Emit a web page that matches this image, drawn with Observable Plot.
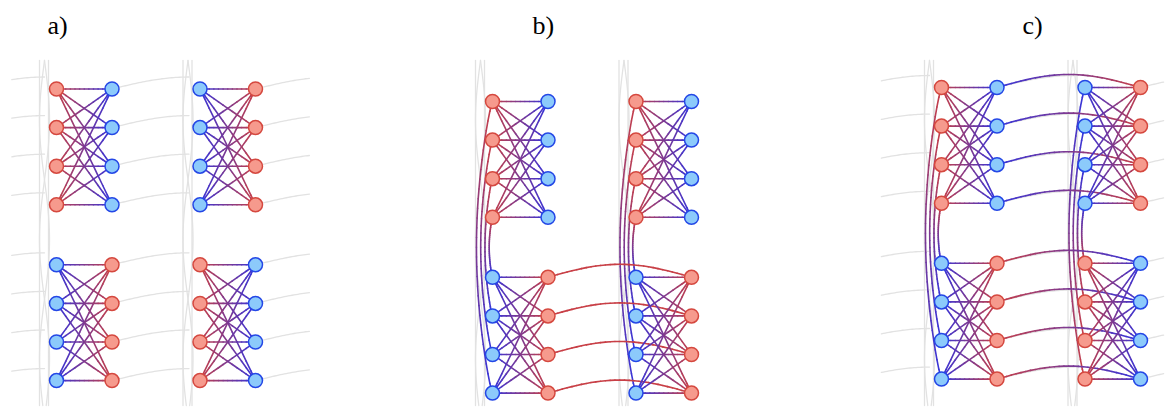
<!DOCTYPE html>
<html>
<head>
<meta charset="utf-8">
<script src="https://cdn.jsdelivr.net/npm/d3@7"></script>
<script src="https://cdn.jsdelivr.net/npm/@observablehq/plot@0.6"></script>
<style>
  html, body { margin: 0; padding: 0; background: #ffffff; }
  #chart svg { display: block; }
</style>
</head>
<body>
<div id="chart"></div>
<script>
// ---------------- DATA (graph topology) ----------------
const panelLabels = ["a)", "b)", "c)"];
// node kind of each column: panel -> pair -> group (top, bottom) -> [left column, right column]
const columnKinds = [
  [[["R", "B"], ["B", "R"]], [["B", "R"], ["R", "B"]]],
  [[["R", "B"], ["B", "R"]], [["R", "B"], ["B", "R"]]],
  [[["R", "B"], ["B", "R"]], [["B", "R"], ["R", "B"]]]
];
const rowIndex = [0, 1, 2, 3];
const pairIndex = [0, 1];
const groupIndex = [0, 1];
// panels whose left columns are linked top -> bottom by nested arcs
const hasVerticalArcs = [false, true, true];
// groups whose right columns are linked pair 0 -> pair 1 by arcs
const bridgeGroups = [[], [1], [0, 1]];
// panels that show the faint grey lattice rows
const hasGreyRows = [true, false, true];

// ---------------- LAYOUT & STYLE ----------------
const layout = {
  x0: [56, 492, 941], y0: [88.5, 101, 87],
  colGap: 55.5, pairGap: 143.5, rowGap: 38.6, groupGap: 60,
  labelX: [47, 532, 1022], labelY: 25,
  greyMin: [10, 0, 880], greyMax: [310, 0, 1165],
  bandOffset: -12, bandTop: 60, bandBottom: 406,
  greyRise: 12, greyLen: 77, bridgeBulge: 13, vBulge: 0.055
};
const nodeFill = { R: "#f69a8d", B: "#8ccafb" };
const nodeStroke = { R: "#d5483f", B: "#2447e6" };
const edgeEnd = { R: "#c83f46", B: "#3434dc" };
const serif = "'Liberation Serif', 'Times New Roman', 'DejaVu Serif', serif";

// ---------------- BUILD ----------------
const nodeX = (p, pair, col) => layout.x0[p] + pair * layout.pairGap + col * layout.colGap;
const nodeY = (p, group, row) => layout.y0[p] + group * (3 * layout.rowGap + layout.groupGap) + row * layout.rowGap;

const nodes = [];
const nodeAt = {};
columnKinds.forEach((pairs, p) => pairIndex.forEach(pair => groupIndex.forEach(group => [0, 1].forEach(col => rowIndex.forEach(row => {
  const n = { p, pair, group, col, row, kind: pairs[pair][group][col], x: nodeX(p, pair, col), y: nodeY(p, group, row) };
  nodes.push(n);
  nodeAt[[p, pair, group, col, row].join("-")] = n;
})))));
const N = (p, pair, group, col, row) => nodeAt[[p, pair, group, col, row].join("-")];

const edges = [];
// complete bipartite links inside each group
columnKinds.forEach((_, p) => pairIndex.forEach(pair => groupIndex.forEach(group => rowIndex.forEach(i => rowIndex.forEach(j => {
  edges.push({ a: N(p, pair, group, 0, i), b: N(p, pair, group, 1, j), shape: "straight", steps: 12 });
})))));
// nested arcs joining the left column of the top group to the left column of the bottom group
columnKinds.forEach((_, p) => { if (hasVerticalArcs[p]) pairIndex.forEach(pair => rowIndex.forEach(i => {
  edges.push({ a: N(p, pair, 0, 0, i), b: N(p, pair, 1, 0, 3 - i), shape: "vertical", steps: 30 });
})); });
// bridges joining the right column of pair 0 to the right column of pair 1
columnKinds.forEach((_, p) => bridgeGroups[p].forEach(group => rowIndex.forEach(r => {
  edges.push({ a: N(p, 0, group, 1, r), b: N(p, 1, group, 1, r), shape: "bridge", steps: 30 });
})));

function pointAt(e, t) {
  const x = e.a.x + (e.b.x - e.a.x) * t, y = e.a.y + (e.b.y - e.a.y) * t;
  if (e.shape === "vertical") return [x - layout.vBulge * Math.abs(e.b.y - e.a.y) * Math.pow(Math.sin(Math.PI * t), 0.8), y];
  if (e.shape === "bridge") return [x, y - layout.bridgeBulge * Math.sin(Math.PI * t)];
  return [x, y];
}
const segments = [];
edges.forEach((e, k) => {
  const interp = d3.interpolateRgb(edgeEnd[e.a.kind], edgeEnd[e.b.kind]);
  for (let s = 0; s < e.steps; s++) {
    const t0 = s / e.steps, t1 = (s + 1) / e.steps;
    const [x1, y1] = pointAt(e, t0), [x2, y2] = pointAt(e, t1);
    segments.push({ x1, y1, x2, y2, color: interp((t0 + t1) / 2), order: e.shape === "straight" ? 1 : 0 });
  }
});
segments.sort((u, v) => u.order - v.order);

// faint grey background lattice
const grey = [];
let gid = 0;
columnKinds.forEach((_, p) => {
  pairIndex.forEach(pair => {
    const xc = nodeX(p, pair, 0) + layout.bandOffset;
    const id1 = gid++, id2 = gid++, id3 = gid++, id4 = gid++;
    for (let y = layout.bandTop; y <= layout.bandBottom; y += 3) {
      const w = Math.sin((y - layout.bandTop) / 38);
      grey.push({ id: id1, x: xc - 5, y });
      grey.push({ id: id2, x: xc + 4, y });
      grey.push({ id: id3, x: xc + 5 * w, y });
      grey.push({ id: id4, x: xc - 5 * w, y });
    }
  });
  if (!hasGreyRows[p]) return;
  groupIndex.forEach(group => rowIndex.forEach(row => {
    const yr = nodeY(p, group, row);
    const starts = [nodeX(p, 0, 0) + layout.bandOffset - layout.greyLen, nodeX(p, 0, 1), nodeX(p, 1, 1)];
    starts.forEach(x0 => {
      const id = gid++;
      for (let s = 0; s <= 40; s++) {
        const t = s / 40, x = x0 + layout.greyLen * t;
        if (x < layout.greyMin[p] || x > layout.greyMax[p]) continue;
        grey.push({ id, x, y: yr - layout.greyRise * Math.sin(t * Math.PI / 2) });
      }
    });
  }));
});

const labels = panelLabels.map((text, p) => ({ text, x: layout.labelX[p], y: layout.labelY }));

const chart = Plot.plot({
  width: 1165, height: 408, margin: 0,
  style: { fontFamily: serif, background: "#ffffff" },
  x: { type: "linear", domain: [0, 1165], range: [0, 1165], axis: null },
  y: { type: "linear", domain: [0, 408], range: [0, 408], axis: null },
  color: { type: "identity" },
  marks: [
    Plot.line(grey, { x: "x", y: "y", z: "id", stroke: "#e2e2e2", strokeWidth: 1.3, curve: "linear" }),
    Plot.link(segments, { x1: "x1", y1: "y1", x2: "x2", y2: "y2", stroke: "color", strokeWidth: 1.6, strokeLinecap: "round" }),
    Plot.dot(nodes, { x: "x", y: "y", r: 7, fill: d => nodeFill[d.kind], stroke: d => nodeStroke[d.kind], strokeWidth: 1.5 }),
    Plot.text(labels, { x: "x", y: "y", text: "text", textAnchor: "start", fontSize: 26, fontFamily: serif, fill: "#000" })
  ]
});
d3.select(chart).selectAll("text").style("font-family", serif);
document.getElementById("chart").appendChild(chart);
</script>
</body>
</html>
